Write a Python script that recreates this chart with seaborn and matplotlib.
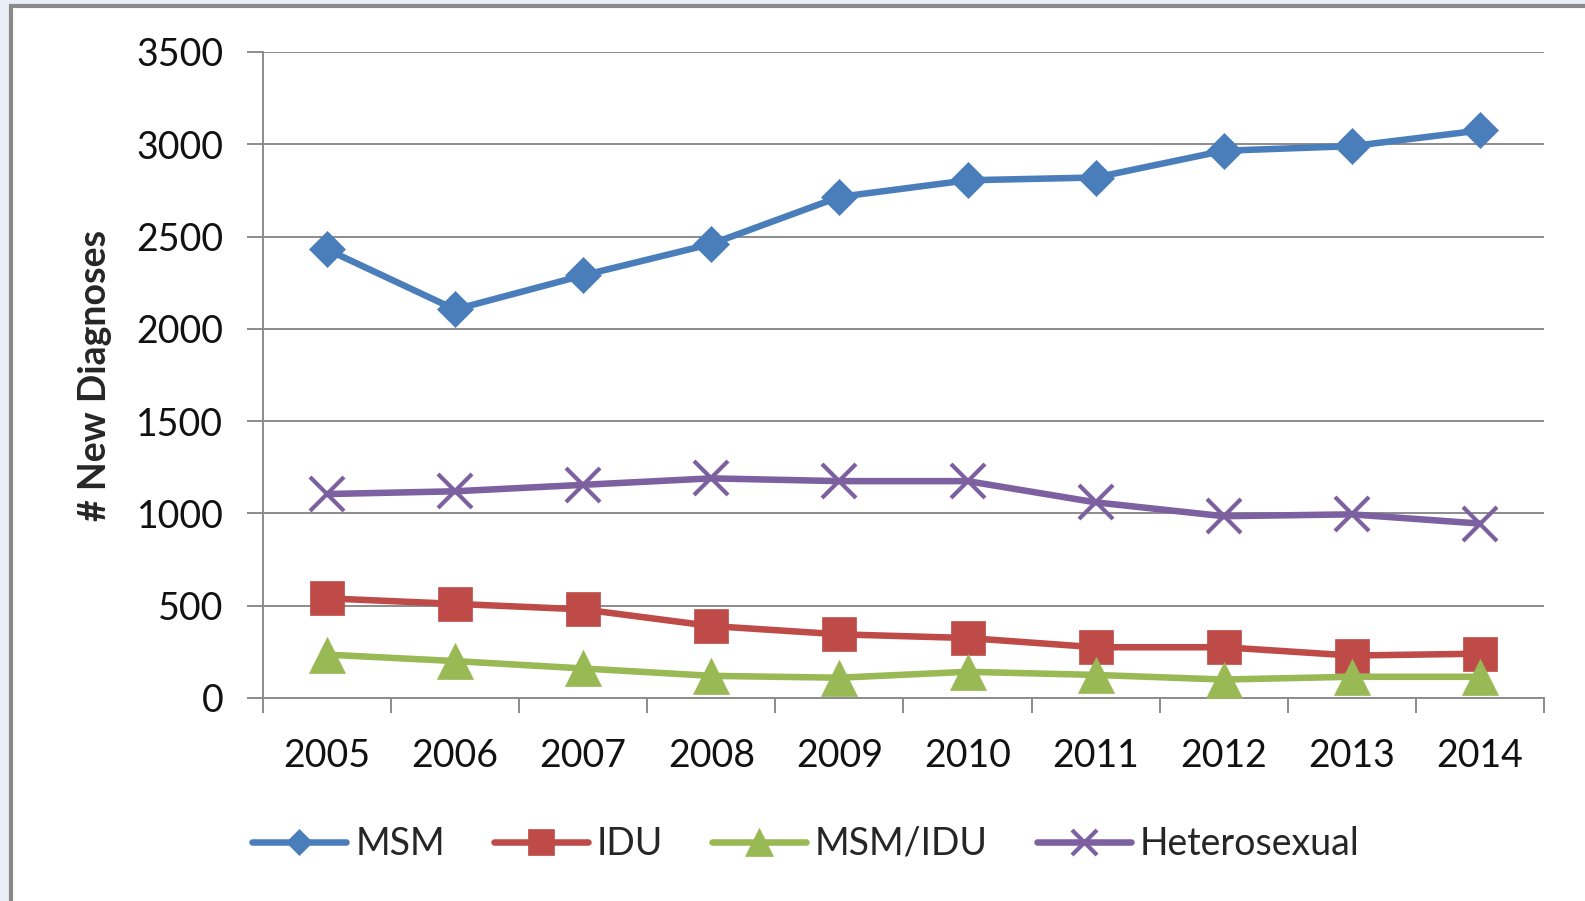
import numpy as np
import pandas as pd
import matplotlib.pyplot as plt
import matplotlib.patches as mpatches
import seaborn as sns

years = [2005, 2006, 2007, 2008, 2009, 2010, 2011, 2012, 2013, 2014]
msm = [2430, 2105, 2290, 2460, 2715, 2805, 2820, 2965, 2990, 3075]
idu = [540, 510, 480, 390, 345, 325, 275, 275, 230, 240]
msm_idu = [235, 200, 160, 120, 110, 142, 125, 100, 115, 115]
hetero = [1105, 1120, 1155, 1190, 1175, 1175, 1060, 985, 995, 945]

series_names = ["MSM", "IDU", "MSM/IDU", "Heterosexual"]
series_values = [msm, idu, msm_idu, hetero]
colors = ["#4A7EBB", "#BE4B48", "#98B954", "#7D60A0"]
markers = ["D", "s", "^", "x"]
msizes = [18, 25, 26, 24]

df = pd.DataFrame({
    "Year": years * len(series_names),
    "Diagnoses": sum(series_values, []),
    "Group": np.repeat(series_names, len(years)),
})

sns.set_theme(style="white")
plt.rcParams["font.family"] = ["Lato", "DejaVu Sans"]

fig = plt.figure(figsize=(15.85, 9.01), dpi=100)
fig.patch.set_facecolor("#E9EEF6")
# white chart area with gray frame (left/top visible)
fig.add_artist(mpatches.Rectangle((11 / 1585, -0.1), 1.2, 1.1 - 6 / 901,
                                  transform=fig.transFigure, facecolor="white",
                                  edgecolor="#8A8A8A", lw=3, zorder=0))

ax = fig.add_axes([263 / 1585, 1 - 698 / 901, (1544 - 263) / 1585, (698 - 52) / 901])
ax.set_facecolor("none")

for name, col, mk, ms in zip(series_names, colors, markers, msizes):
    sub = df[df["Group"] == name]
    sns.lineplot(data=sub, x="Year", y="Diagnoses", color=col, marker=mk,
                 markersize=ms, markeredgecolor=col, markerfacecolor=col,
                 markeredgewidth=3 if mk == "x" else 0.5, lw=4.7,
                 label=name, ax=ax, legend=False, zorder=3)

ax.set_ylim(0, 3500)
ax.set_yticks(np.arange(0, 3501, 500))
ax.set_xlim(years[0] - 0.5, years[-1] + 0.5)
ax.set_xticks(np.arange(years[0] - 0.5, years[-1] + 0.51, 1))
ax.set_xticklabels([])
ax.set_xticks(years, minor=True)
ax.set_xticklabels([str(y) for y in years], minor=True)

gc = "#8C8C8C"
ax.grid(axis="y", color=gc, lw=1.4)
ax.grid(axis="x", visible=False)
for s in ["top", "right"]:
    ax.spines[s].set_visible(False)
for s in ["left", "bottom"]:
    ax.spines[s].set_color(gc)
    ax.spines[s].set_linewidth(1.4)

ax.tick_params(axis="y", which="major", left=True, length=11.5, width=1.4,
               color=gc, pad=17, labelsize=27, labelcolor="#111111")
ax.tick_params(axis="x", which="major", bottom=True, length=11, width=1.4,
               color=gc)
ax.tick_params(axis="x", which="minor", bottom=True, length=0, pad=29,
               labelsize=27, labelcolor="#111111")

ax.set_xlabel("")
ax.set_ylabel("# New Diagnoses", fontsize=27, fontweight="bold")
ax.yaxis.set_label_coords(-0.118, 0.5)

handles, labels = ax.get_legend_handles_labels()
fig.legend(handles, labels, loc="center", bbox_to_anchor=(806 / 1585, 1 - 844 / 901),
           ncol=4, frameon=False, fontsize=27, handlelength=2.5,
           handletextpad=0.25, columnspacing=1.3, markerscale=0.75)

fig.savefig("out.png", dpi=100, facecolor=fig.get_facecolor())
